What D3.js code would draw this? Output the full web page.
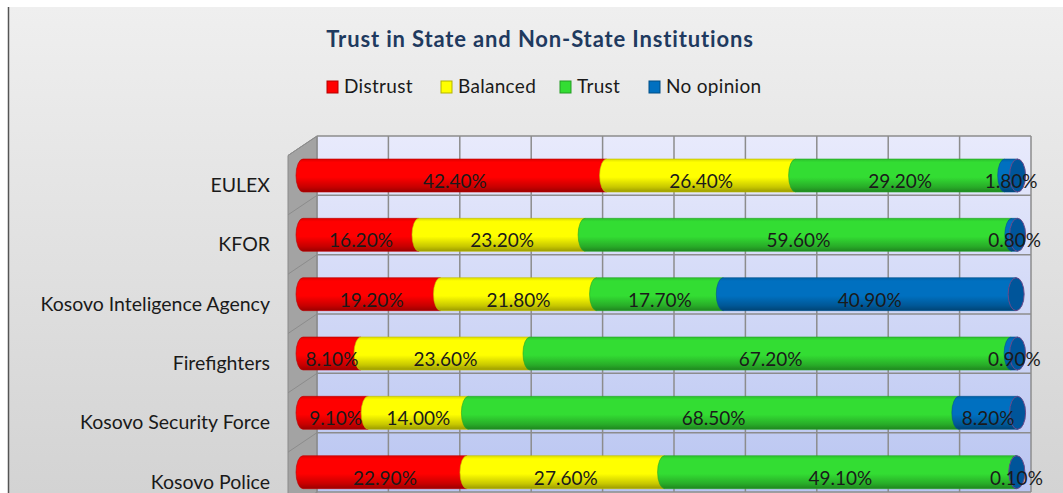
<!DOCTYPE html>
<html>
  <head>
    <script src="https://d3js.org/d3.v7.min.js" charset="utf-8"></script>
    <style>
      body { margin: 0; background: #fff; }
      text { font-family: Lato, "Open Sans", sans-serif; }
    </style>
  </head>
  <body>
    <svg id="chart" width="1063" height="493"></svg>
    <script>
      var categories = ["EULEX", "KFOR", "Kosovo Inteligence Agency", "Firefighters", "Kosovo Security Force", "Kosovo Police"];
      var distrust  = [42.4, 16.2, 19.2, 8.1, 9.1, 22.9];
      var balanced  = [26.4, 23.2, 21.8, 23.6, 14.0, 27.6];
      var trust     = [29.2, 59.6, 17.7, 67.2, 68.5, 49.1];
      var noOpinion = [1.8, 0.8, 40.9, 0.9, 8.2, 0.1];
      var seriesNames = ["Distrust", "Balanced", "Trust", "No opinion"];
      var seriesColors = ["#ff0000", "#ffff00", "#33dd33", "#0070c0"];
      var gridTicks = [0, 10, 20, 30, 40, 50, 60, 70, 80, 90, 100];

      var rows = categories.map((c, i) => ({
        cat: c, "Distrust": distrust[i], "Balanced": balanced[i], "Trust": trust[i], "No opinion": noOpinion[i]
      }));
      var stacked = d3.stack().keys(seriesNames)(rows);

      var svg = d3.select("#chart");
      var defs = svg.append("defs");

      // chart area background
      var bg = defs.append("linearGradient").attr("id", "bg").attr("x1", 0).attr("y1", 0).attr("x2", 0).attr("y2", 1);
      bg.append("stop").attr("offset", "0%").attr("stop-color", "#efefef");
      bg.append("stop").attr("offset", "100%").attr("stop-color", "#d3d3d3");
      var wallG = defs.append("linearGradient").attr("id", "wall").attr("x1", 0).attr("y1", 0).attr("x2", 0).attr("y2", 1);
      wallG.append("stop").attr("offset", "0%").attr("stop-color", "#e8eafc");
      wallG.append("stop").attr("offset", "100%").attr("stop-color", "#b9c5f1");

      seriesColors.forEach((c, i) => {
        var g = defs.append("linearGradient").attr("id", "cyl" + i).attr("x1", 0).attr("y1", 0).attr("x2", 0).attr("y2", 1);
        g.append("stop").attr("offset", "0%").attr("stop-color", d3.color(c).darker(0.4));
        g.append("stop").attr("offset", "10%").attr("stop-color", c);
        g.append("stop").attr("offset", "55%").attr("stop-color", c);
        g.append("stop").attr("offset", "85%").attr("stop-color", d3.color(c).darker(0.7));
        g.append("stop").attr("offset", "100%").attr("stop-color", d3.color(c).darker(1.4));
      });

      svg.append("rect").attr("x", 8).attr("y", 7).attr("width", 1055).attr("height", 486).attr("fill", "url(#bg)");
      svg.append("line").attr("x1", 8.5).attr("x2", 8.5).attr("y1", 7).attr("y2", 493)
        .attr("stroke", "#555").attr("stroke-width", 1.5);

      // scales: back wall and front bars
      var xWall = d3.scaleLinear().domain([0, 100]).range([317, 1031]);
      var xBar = d3.scaleLinear().domain([0, 100]).range([303, 1019]);
      var yBand = d3.scaleBand().domain(categories).range([136, 492]);
      var depthX = -29, depthY = 19.5;
      var barH = 33, rx = 7;
      var yMid = c => yBand(c) + 39.5;

      // back wall
      svg.append("rect").attr("x", xWall(0)).attr("y", yBand.range()[0])
        .attr("width", xWall(100) - xWall(0)).attr("height", yBand.range()[1] - yBand.range()[0])
        .attr("fill", "url(#wall)");
      // left side wall
      var y0 = yBand.range()[0], y1 = yBand.range()[1];
      svg.append("path")
        .attr("d", `M${xWall(0)},${y0} L${xWall(0) + depthX},${y0 + depthY} L${xWall(0) + depthX},${y1 + depthY + 10} L${xWall(0)},${y1 + 10} Z`)
        .attr("fill", "#a3a3a3").attr("stroke", "#8a8a8a");

      var bounds = categories.map(c => yBand(c)).concat([y1]);
      svg.append("g").selectAll("line").data(bounds).join("line")
        .attr("x1", xWall(0)).attr("x2", xWall(100)).attr("y1", d => d).attr("y2", d => d)
        .attr("stroke", "#8c8c8c").attr("stroke-width", 1.5);
      svg.append("g").selectAll("line").data(bounds).join("line")
        .attr("x1", xWall(0)).attr("x2", xWall(0) + depthX).attr("y1", d => d).attr("y2", d => d + depthY)
        .attr("stroke", "#8c8c8c").attr("stroke-width", 1);
      svg.append("g").selectAll("line").data(gridTicks).join("line")
        .attr("x1", d => xWall(d)).attr("x2", d => xWall(d)).attr("y1", y0).attr("y2", y1)
        .attr("stroke", "#8c8c8c").attr("stroke-width", 1.5);

      // cylinders
      function segPath(a, b, cy) {
        var t = cy - barH / 2, bt = cy + barH / 2, ry = barH / 2;
        return `M${b},${t} L${a},${t} A${rx},${ry} 0 0 0 ${a},${bt} L${b},${bt} Z`;
      }
      var barsG = svg.append("g");
      stacked.forEach((s, si) => {
        barsG.append("g").selectAll("path").data(s).join("path")
          .attr("d", d => segPath(xBar(d[0]), xBar(d[1]), yMid(d.data.cat)))
          .attr("fill", "url(#cyl" + si + ")")
          .attr("stroke", d3.color(seriesColors[si]).darker(0.8)).attr("stroke-width", 0.6);
      });
      var last = stacked[stacked.length - 1];
      barsG.append("g").selectAll("ellipse").data(last).join("ellipse")
        .attr("cx", d => xBar(d[1])).attr("cy", d => yMid(d.data.cat))
        .attr("rx", 8).attr("ry", barH / 2)
        .attr("fill", "#00559a").attr("stroke", "#6a4a8a").attr("stroke-width", 1);

      // data labels
      stacked.forEach((s, si) => {
        svg.append("g").selectAll("text").data(s).join("text")
          .attr("x", d => (xBar(d[0]) + xBar(d[1])) / 2)
          .attr("y", d => yMid(d.data.cat) + 12.5)
          .attr("text-anchor", "middle").attr("font-size", 19).attr("fill", "#1a1a1a")
          .text(d => (d[1] - d[0]).toFixed(2) + "%");
      });

      // category labels
      svg.append("g").selectAll("text").data(categories).join("text")
        .attr("x", 270).attr("y", d => yMid(d) + 16.5)
        .attr("text-anchor", "end").attr("font-size", 19.5).attr("fill", "#1a1a1a")
        .text(d => d);

      // title
      svg.append("text").attr("x", 540).attr("y", 47).attr("text-anchor", "middle")
        .attr("font-size", 22).attr("letter-spacing", 0.85).attr("font-weight", "bold").attr("fill", "#1f3a5f")
        .text("Trust in State and Non-State Institutions");

      // legend
      var legendX = [327, 441, 560, 649];
      var legend = svg.append("g").selectAll("g").data(seriesNames).join("g")
        .attr("transform", (d, i) => `translate(${legendX[i]}, 80)`);
      legend.append("rect").attr("width", 11).attr("height", 12).attr("y", 1)
        .attr("fill", (d, i) => seriesColors[i])
        .attr("stroke", (d, i) => d3.color(seriesColors[i]).darker(1)).attr("stroke-width", 1);
      legend.append("text").attr("x", 17).attr("y", 13).attr("font-size", 19).attr("letter-spacing", 0.3).attr("fill", "#1a1a1a")
        .text(d => d);
    </script>
  </body>
</html>
